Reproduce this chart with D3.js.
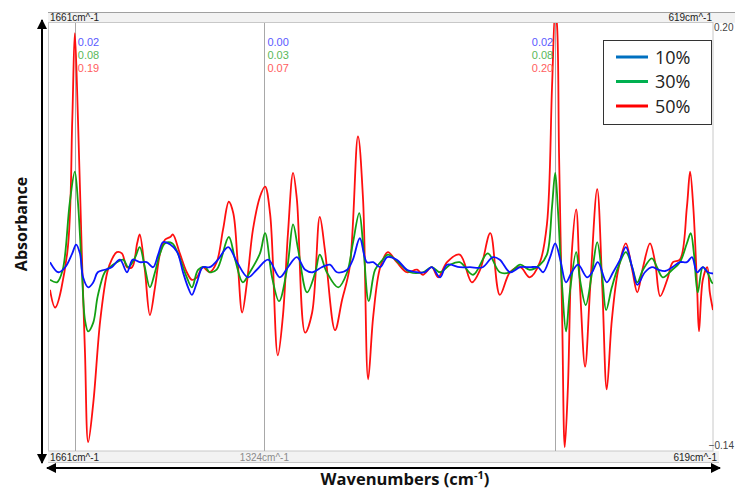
<!DOCTYPE html>
<html>
<head>
<meta charset="utf-8">
<script src="https://cdn.jsdelivr.net/npm/d3@7"></script>
<style>
  body { margin: 0; background: #fff; }
  svg { display: block; }
</style>
</head>
<body>
<script>
const svgW = 735;
const svgH = 490;

// wavenumber range and absorbance range shown by the plot
const wnRange = [1661, 619];
const absRange = [0.20, -0.14];
const cursorWn = [1622, 1324, 867];
const topTicks = ['1661cm^-1', '619cm^-1'];
const bottomTicks = [[1661, '1661cm^-1'], [1324, '1324cm^-1'], [619, '619cm^-1']];
const seriesNames = ['10%', '30%', '50%'];
// readouts at each cursor: [blue, green, red]
const cursorValues = [['0.02', '0.08', '0.19'], ['0.00', '0.03', '0.07'], ['0.02', '0.08', '0.20']];

const wn10 = [1661,1648,1637,1626,1620,1614,1609,1601,1593,1586,1575,1564,1551,1540,1531,1520,1509,1499,1491,1483,1472,1461,1452,1444,1438,1430,1421,1410,1397,1381,1367,1350,1336,1318,1300,1287,1273,1260,1248,1234,1221,1210,1194,1185,1174,1163,1153,1142,1131,1116,1100,1084,1072,1061,1048,1037,1017,1001,981,965,954,938,922,907,894,886,875,867,859,850,841,831,817,809,800,786,776,765,756,746,738,726,715,705,694,683,671,660,652,644,635,627,619];
const abs10 = [0.010,0.002,0.006,0.017,0.024,0.017,-0.002,-0.010,-0.006,0.002,0.004,0.006,0.012,0.002,0.012,0.010,0.010,0.006,0.016,0.026,0.024,0.018,0.002,-0.010,-0.016,-0.006,0.006,0.006,0.012,0.022,0.010,-0.002,0.004,0.012,-0.002,0.006,0.014,0.004,0.002,0.006,0.008,0.002,0.004,0.012,0.029,0.010,0.010,0.006,0.014,0.012,0.004,0.002,0.002,0.006,-0.002,0.008,0.006,0.006,0.006,0.014,0.012,0.002,0.006,0.006,0.006,0.002,0.014,0.025,0.012,-0.006,0.002,0.008,-0.002,0.002,0.010,-0.006,0.002,0.012,0.022,0.006,-0.008,0.002,0.006,0.004,0.003,0.006,0.010,0.010,0.014,0.002,0.006,0.002,0.001];

const wn30 = [1661,1650,1641,1630,1622,1617,1611,1606,1601,1593,1586,1575,1567,1556,1546,1538,1527,1520,1512,1504,1496,1488,1480,1469,1460,1446,1438,1428,1417,1410,1399,1380,1370,1358,1347,1331,1323,1312,1301,1288,1279,1271,1257,1244,1237,1226,1208,1194,1185,1175,1169,1160,1150,1138,1130,1114,1095,1075,1061,1048,1032,1017,996,973,954,938,922,907,891,880,872,867,863,856,850,844,834,828,819,809,801,793,787,778,768,756,746,738,729,715,707,698,683,671,660,654,649,643,635,628,621,619];
const abs30 = [-0.004,-0.006,0.004,0.057,0.082,0.057,0.004,-0.036,-0.045,-0.038,-0.017,0.002,0.006,0.010,0.012,0.006,0.014,0.022,0.006,-0.010,0.002,0.017,0.025,0.025,0.017,-0.002,-0.010,0.004,0.006,0.002,0.004,0.030,0.012,-0.006,0.002,0.017,0.033,-0.002,-0.021,0.006,0.040,0.020,-0.014,0.002,0.016,0.002,-0.010,0.002,0.025,0.049,0.025,-0.021,0.004,0.012,0.016,0.010,0.002,0.002,0.006,0.002,0.008,0.010,0.000,0.017,0.002,0.002,0.008,0.004,0.008,0.016,0.054,0.081,0.054,-0.010,-0.045,-0.014,0.018,-0.004,-0.024,0.002,0.026,-0.002,-0.028,-0.010,0.006,0.018,0.006,-0.006,0.004,0.013,0.006,-0.002,0.004,0.010,0.025,0.033,0.017,-0.014,0.006,0.002,-0.006,-0.007];

const wn50 = [1661,1653,1634,1626,1622,1617,1611,1606,1601,1593,1582,1571,1564,1556,1548,1540,1532,1524,1520,1512,1504,1496,1488,1480,1472,1468,1457,1446,1438,1430,1421,1410,1399,1389,1380,1373,1366,1359,1351,1342,1331,1323,1315,1303,1295,1287,1279,1273,1260,1249,1237,1229,1213,1202,1190,1177,1169,1161,1153,1142,1130,1116,1100,1084,1075,1061,1051,1037,1017,998,985,969,954,938,922,907,891,880,872,867,864,861,856,852,847,841,834,828,820,812,801,793,786,778,768,756,746,738,729,718,710,702,691,682,671,660,655,650,644,641,635,628,624,619];
const abs50 = [-0.012,-0.026,0.017,0.123,0.192,0.123,0.017,-0.062,-0.133,-0.102,-0.036,0.002,0.012,0.018,0.017,0.006,0.006,0.025,0.032,0.004,-0.032,-0.010,0.017,0.028,0.030,0.032,0.017,0.002,-0.004,-0.002,0.006,0.002,0.010,0.036,0.058,0.049,0.010,-0.030,-0.004,0.036,0.062,0.070,0.048,-0.064,-0.033,0.033,0.081,0.060,-0.046,-0.030,0.046,0.020,-0.044,-0.020,0.006,0.110,0.060,-0.083,-0.033,0.006,0.018,0.010,0.002,0.004,0.000,0.006,-0.002,0.010,0.016,-0.006,0.004,0.033,-0.016,0.002,0.006,-0.002,0.010,0.040,0.149,0.210,0.197,0.097,-0.036,-0.137,-0.089,0.017,0.052,-0.010,-0.073,-0.010,0.068,-0.010,-0.091,-0.036,0.004,0.025,0.004,-0.014,0.006,0.025,0.010,-0.017,-0.004,0.010,0.012,0.054,0.082,0.054,-0.010,-0.045,-0.004,0.006,-0.014,-0.028];

const plotL = 50, plotR = 713, plotT = 23, plotB = 451;

const svg = d3.select('body')
              .append('svg')
              .attr('width', svgW)
              .attr('height', svgH)
              .style('font-family', 'Liberation Sans, Arial, sans-serif');

const x = d3.scaleLinear().domain(wnRange).range([plotL, plotR]);
const y = d3.scaleLinear().domain(absRange).range([plotT, plotB]);

// top and bottom bands with the range labels
svg.append('rect').attr('x', 48).attr('y', 12).attr('width', svgW - 48).attr('height', 11)
   .attr('fill', '#f2f2f2').attr('stroke', 'none');
svg.append('line').attr('x1', 48).attr('x2', svgW).attr('y1', 12.5).attr('y2', 12.5).attr('stroke', '#a0a0a0');
svg.append('rect').attr('x', 48).attr('y', plotB).attr('width', plotR - 48 + 6).attr('height', 11)
   .attr('fill', '#f2f2f2');
svg.append('line').attr('x1', 48).attr('x2', plotR + 6).attr('y1', plotB + 11.5).attr('y2', plotB + 11.5).attr('stroke', '#c8c8c8');

// plot frame
svg.append('rect').attr('x', plotL - 1.5).attr('y', plotT - 0.5).attr('width', plotR - plotL + 1.5).attr('height', plotB - plotT + 0.5)
   .attr('fill', '#fff').attr('stroke', '#c8c8c8');

svg.append('text').attr('x', x(wnRange[0])).attr('y', 21).attr('font-size', 10).attr('fill', '#222')
   .text(topTicks[0]);
svg.append('text').attr('x', x(wnRange[1]) - 1).attr('y', 21).attr('font-size', 10).attr('fill', '#222')
   .attr('text-anchor', 'end').text(topTicks[1]);

svg.selectAll('.btick')
   .data(bottomTicks)
   .enter()
   .append('text')
   .attr('x', d => d[0] === 619 ? x(d[0]) + 4 : x(d[0]))
   .attr('y', plotB + 10)
   .attr('font-size', 10)
   .attr('text-anchor', (d, i) => ['start', 'middle', 'end'][i])
   .attr('fill', (d, i) => i === 1 ? '#8a8a8a' : '#222')
   .text(d => d[1]);

svg.append('text').attr('x', plotR + 1).attr('y', y(absRange[0]) + 8).attr('font-size', 10).attr('fill', '#444')
   .text(d3.format('.2f')(absRange[0]));
svg.append('text').attr('x', svgW - 1).attr('y', y(absRange[1]) - 2).attr('font-size', 10).attr('fill', '#444')
   .attr('text-anchor', 'end')
   .text(d3.format('.2f')(absRange[1]));

// cursors
svg.selectAll('.cursor')
   .data(cursorWn)
   .enter()
   .append('line')
   .attr('x1', d => Math.round(x(d)) + 0.5)
   .attr('x2', d => Math.round(x(d)) + 0.5)
   .attr('y1', plotT)
   .attr('y2', plotB)
   .attr('stroke', '#a8a8a8');

// spectra
svg.append('clipPath').attr('id', 'clip')
   .append('rect').attr('x', plotL).attr('y', plotT).attr('width', plotR - plotL).attr('height', plotB - plotT);

const line = d3.line()
               .x(d => x(d[0]))
               .y(d => y(d[1]))
               .curve(d3.curveCatmullRom.alpha(0.5));

const spectra = [
  { wn: wn10, abs: abs10, color: '#0a14ff' },
  { wn: wn30, abs: abs30, color: '#13a013' },
  { wn: wn50, abs: abs50, color: '#ff0f0f' }
];

const g = svg.append('g').attr('clip-path', 'url(#clip)');
g.selectAll('path')
 .data(spectra.slice().reverse())
 .enter()
 .append('path')
 .attr('d', s => line(d3.zip(s.wn, s.abs)))
 .attr('fill', 'none')
 .attr('stroke', s => s.color)
 .attr('stroke-width', 1.8)
 .attr('stroke-linejoin', 'round');

// cursor readouts
const readColors = ['#5a5aff', '#5ab85a', '#ff6060'];
cursorWn.forEach((c, ci) => {
  const left = ci === 2;
  cursorValues[ci].forEach((v, vi) => {
    svg.append('text')
       .attr('x', left ? x(c) - 2 : x(c) + 3)
       .attr('y', 46 + vi * 13)
       .attr('font-size', 11)
       .attr('text-anchor', left ? 'end' : 'start')
       .attr('fill', readColors[vi])
       .text(v);
  });
});

// legend
const legendColors = ['#0070c0', '#00b050', '#ff0000'];
const lg = svg.append('g').attr('transform', 'translate(603, 40)');
lg.append('rect').attr('x', 0.5).attr('y', 0.5).attr('width', 108).attr('height', 84)
  .attr('fill', '#fff').attr('stroke', '#333');
const items = lg.selectAll('.item')
                .data(seriesNames)
                .enter()
                .append('g')
                .attr('transform', (d, i) => `translate(0, ${17 + i * 24.5})`);
items.append('line').attr('x1', 13).attr('x2', 45).attr('y1', 0).attr('y2', 0)
     .attr('stroke', (d, i) => legendColors[i]).attr('stroke-width', 3);
items.append('text').attr('x', 52).attr('y', 6.5).attr('font-size', 18)
     .attr('font-family', 'Open Sans, sans-serif').attr('fill', '#222').text(d => d);

// axis arrows
const defs = svg.append('defs');
defs.append('marker').attr('id', 'arr').attr('viewBox', '0 0 10 10').attr('refX', 9).attr('refY', 5)
    .attr('markerWidth', 5).attr('markerHeight', 5).attr('orient', 'auto-start-reverse')
    .append('path').attr('d', 'M0,0 L10,5 L0,10 z').attr('fill', '#000');

svg.append('line').attr('x1', 42).attr('x2', 42).attr('y1', 20).attr('y2', 463)
   .attr('stroke', '#000').attr('stroke-width', 2)
   .attr('marker-start', 'url(#arr)').attr('marker-end', 'url(#arr)');
svg.append('line').attr('x1', 47).attr('x2', 720).attr('y1', 468).attr('y2', 468)
   .attr('stroke', '#000').attr('stroke-width', 2)
   .attr('marker-start', 'url(#arr)').attr('marker-end', 'url(#arr)');

svg.append('text')
   .attr('transform', 'translate(27, 224) rotate(-90)')
   .attr('text-anchor', 'middle')
   .attr('font-family', 'Open Sans, sans-serif')
   .attr('font-weight', 'bold')
   .attr('font-size', 16)
   .attr('fill', '#111')
   .text('Absorbance');

const xt = svg.append('text')
   .attr('x', 405)
   .attr('y', 485)
   .attr('text-anchor', 'middle')
   .attr('font-family', 'Open Sans, sans-serif')
   .attr('font-weight', 'bold')
   .attr('font-size', 16.5)
   .attr('fill', '#111');
xt.append('tspan').text('Wavenumbers (cm');
xt.append('tspan').attr('dy', -6).attr('font-size', 11).text('-1');
xt.append('tspan').attr('dy', 6).text(')');
</script>
</body>
</html>
